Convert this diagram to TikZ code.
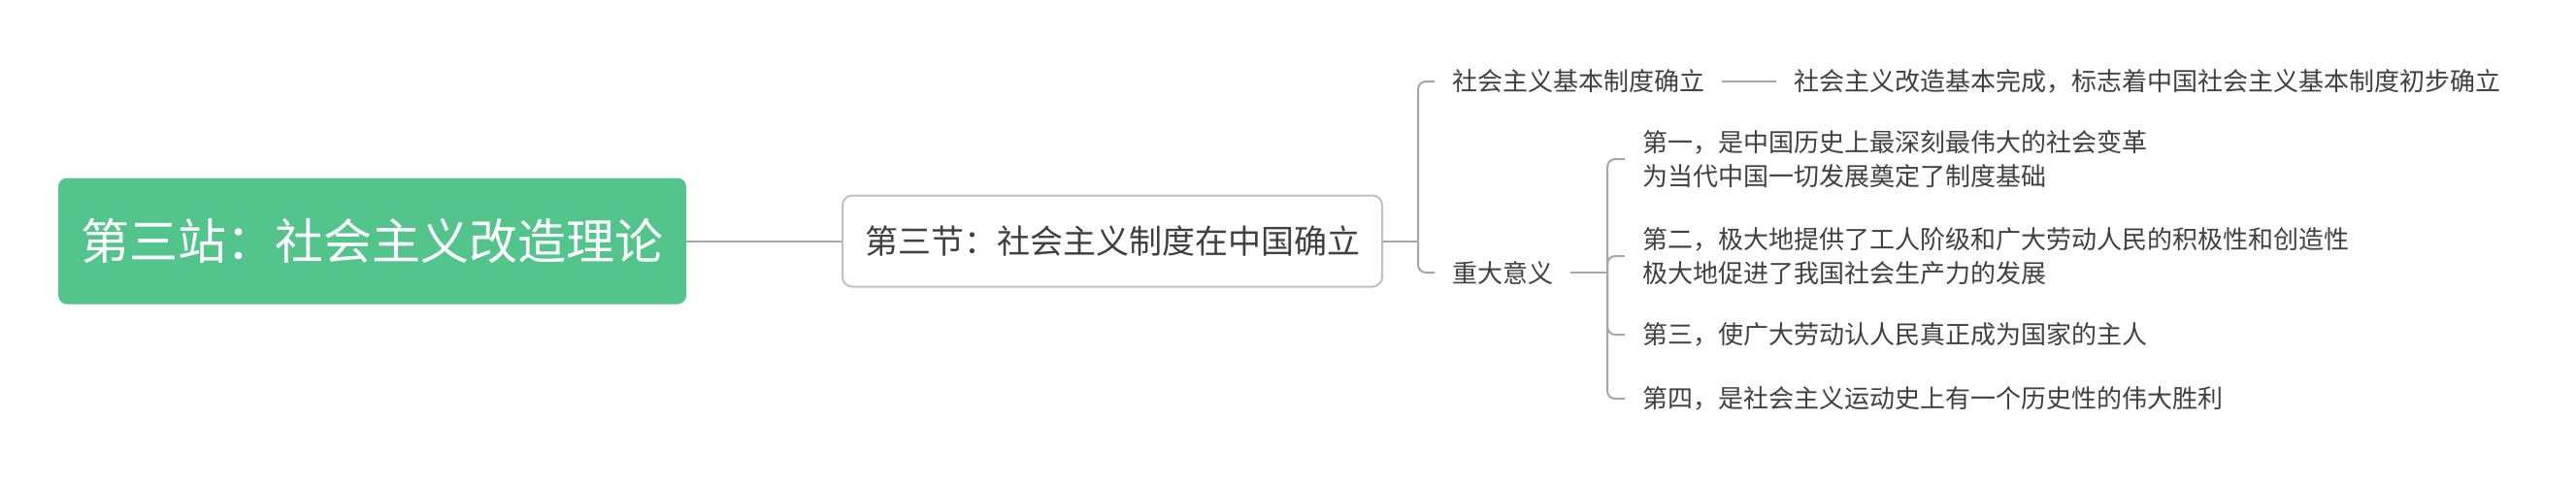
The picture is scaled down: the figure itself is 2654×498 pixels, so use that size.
\documentclass[tikz,border=0pt]{standalone}
\usepackage{fontspec}
\newfontfamily\cjk{Noto Sans CJK SC}
\definecolor{rootgreen}{RGB}{82,196,140}
\definecolor{txt}{RGB}{64,64,64}
\definecolor{linec}{RGB}{166,166,166}
\definecolor{boxline}{RGB}{192,192,192}
\begin{document}
\begin{tikzpicture}[x=1pt,y=-1pt,
  conn/.style={draw=linec,line width=2pt},
  rootbox/.style={fill=rootgreen,rounded corners=9pt,minimum width=647pt,minimum height=130pt,inner sep=0pt,text=white,font=\cjk\fontsize{50}{60}\selectfont},
  secbox/.style={draw=boxline,line width=2pt,fill=white,rounded corners=10pt,minimum width=556pt,minimum height=94pt,inner sep=0pt,text=txt,font=\cjk\fontsize{34}{40}\selectfont},
  leaf/.style={anchor=west,inner xsep=18pt,inner ysep=2pt,text=txt,font=\cjk\fontsize{26}{35}\selectfont,align=left}]
\useasboundingbox (0,0) rectangle (2654,498);
\node[rootbox] (root) at (383.5,248.5) {第三站：社会主义改造理论};
\node[secbox] (sec) at (1146,248.5) {第三节：社会主义制度在中国确立};
\node[leaf] (t1) at (1478,84) {社会主义基本制度确立};
\node[leaf] (t2) at (1830,84) {社会主义改造基本完成，标志着中国社会主义基本制度初步确立};
\node[leaf] (zd) at (1478,281) {重大意义};
\node[leaf] (i1) at (1674,164) {第一，是中国历史上最深刻最伟大的社会变革\\为当代中国一切发展奠定了制度基础};
\node[leaf] (i2) at (1674,264) {第二，极大地提供了工人阶级和广大劳动人民的积极性和创造性\\极大地促进了我国社会生产力的发展};
\node[leaf] (i3) at (1674,345) {第三，使广大劳动认人民真正成为国家的主人};
\node[leaf] (i4) at (1674,411) {第四，是社会主义运动史上有一个历史性的伟大胜利};
\coordinate (b1) at (1461,248.5);
\coordinate (b2) at (1656,281);
\draw[conn] (root.east) -- (sec.west);
\draw[conn] (sec.east) -- (b1);
\draw[conn,rounded corners=8pt] (b1) |- (t1.west);
\draw[conn,rounded corners=8pt] (b1) |- (zd.west);
\draw[conn] (t1.east) -- (t2.west);
\draw[conn] (zd.east) -- (b2);
\draw[conn,rounded corners=8pt] (b2) |- (i1.west);
\draw[conn,rounded corners=8pt] (b2) |- (i2.west);
\draw[conn,rounded corners=8pt] (b2) |- (i3.west);
\draw[conn,rounded corners=8pt] (b2) |- (i4.west);
\end{tikzpicture}
\end{document}
